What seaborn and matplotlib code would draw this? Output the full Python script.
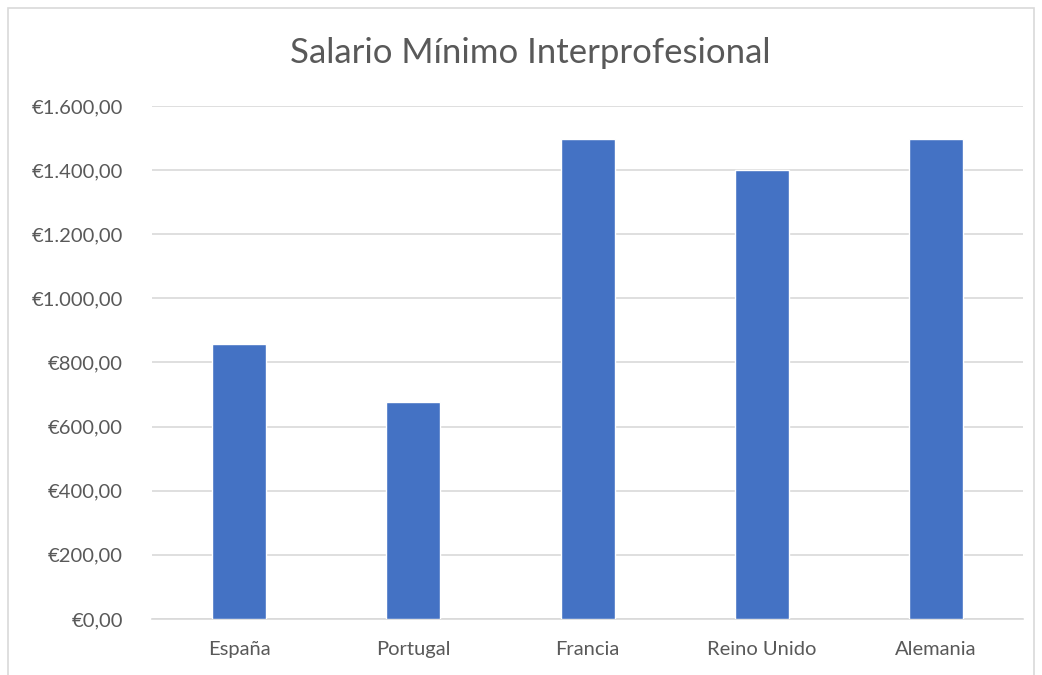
import numpy as np
import pandas as pd
import matplotlib
matplotlib.use("Agg")
import matplotlib.pyplot as plt
from matplotlib.ticker import FuncFormatter, MultipleLocator
from matplotlib.patches import Rectangle
import seaborn as sns

paises = ["España", "Portugal", "Francia", "Reino Unido", "Alemania"]
salario = [858.55, 676.67, 1498.47, 1401.00, 1498.00]

text_grey = "#595959"
grid_grey = "#d9d9d9"
bar_blue = "#4472c4"

sns.set_style("white")
plt.rcParams["font.family"] = ["Lato", "DejaVu Sans"]

df = pd.DataFrame({"pais": paises, "salario": salario})

fig = plt.figure(figsize=(10.42, 6.75), dpi=100)
ax = fig.add_axes([0.1459, 0.083, 0.8359, 0.760])

sns.barplot(data=df, x="pais", y="salario", color=bar_blue, width=0.31,
            saturation=1, ax=ax, zorder=3)

ax.set_ylim(0, 1600)
ax.set_xlim(-0.5, len(paises) - 0.5)
ax.yaxis.set_major_locator(MultipleLocator(200))


def euro(v, pos):
    s = f"{v:,.2f}".replace(",", "X").replace(".", ",").replace("X", ".")
    return "€" + s


ax.yaxis.set_major_formatter(FuncFormatter(euro))
ax.grid(axis="y", color=grid_grey, linewidth=1.2, zorder=0)
ax.set_axisbelow(True)
for side in ["top", "right", "left"]:
    ax.spines[side].set_visible(False)
ax.spines["bottom"].set_color(grid_grey)
ax.spines["bottom"].set_linewidth(1.2)
ax.tick_params(axis="y", length=0, pad=21, labelsize=14.5, labelcolor=text_grey)
ax.tick_params(axis="x", length=0, pad=16, labelsize=14.5, labelcolor=text_grey)
ax.set_xlabel("")
ax.set_ylabel("")

fig.text(0.509, 0.921, "Salario Mínimo Interprofesional", ha="center", va="center",
         fontsize=25, color=text_grey)

# chart frame
fig.patches.append(Rectangle((8 / 1042, -0.01), 1026 / 1042, 1 - 8 / 675 + 0.01,
                             transform=fig.transFigure, fill=False,
                             edgecolor=grid_grey, linewidth=1.2))

fig.savefig("out.png", dpi=100)
